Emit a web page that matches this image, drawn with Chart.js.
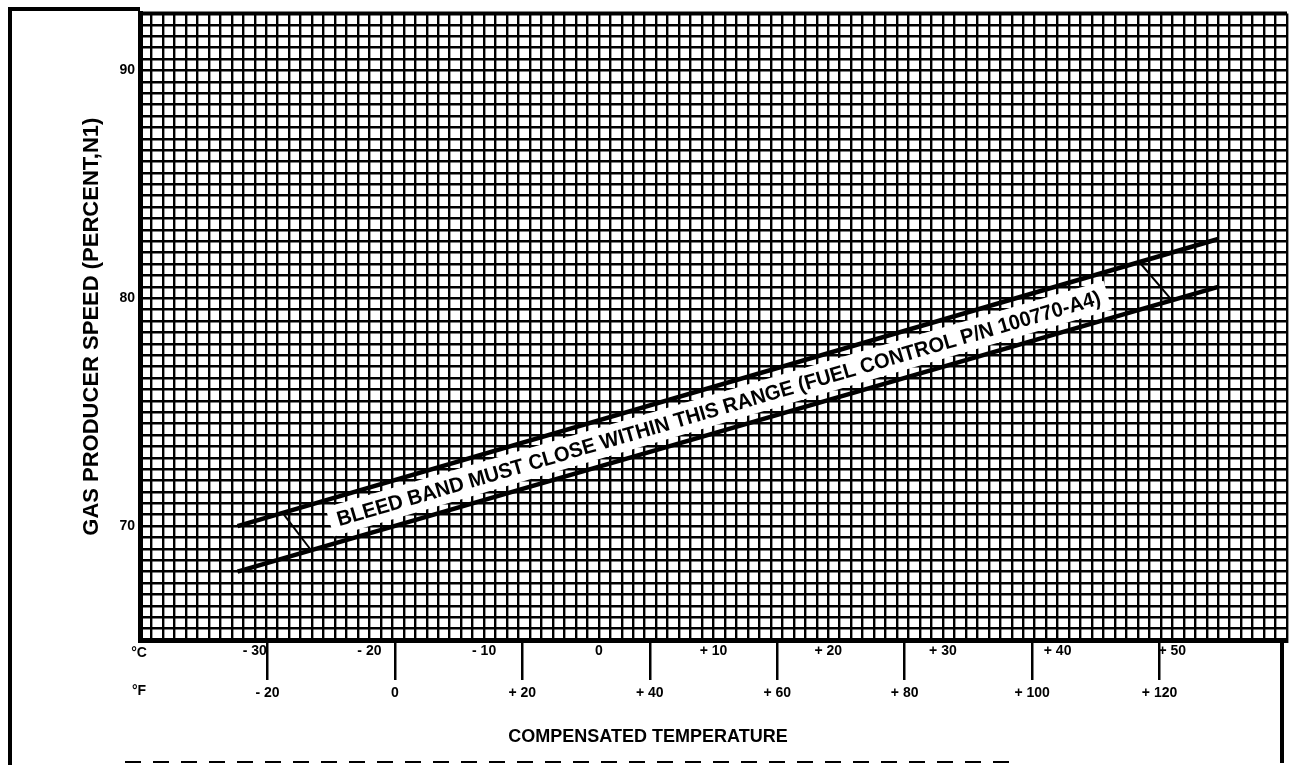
<!DOCTYPE html>
<html>
<head>
<meta charset="utf-8">
<title>Bleed band closing speed</title>
<script src="https://cdn.jsdelivr.net/npm/chart.js@4.4.0/dist/chart.umd.min.js"></script>
<style>
  html, body { margin: 0; padding: 0; background: #fff; }
  canvas { display: block; }
</style>
</head>
<body>
<canvas id="bleedChart" width="1291" height="765"></canvas>
<script>
// axis ranges: x in deg C (grid), second x in deg F, y in percent N1
const tempRangeC = [-40, 60];
const tempRangeF = [-40, 140];
const speedRange = [65, 92.5];

// tick labels
const speedTicks = [70, 80, 90];
const celsiusTicks = [-30, -20, -10, 0, 10, 20, 30, 40, 50];
const celsiusLabels = ['- 30', '- 20', '- 10', '0', '+ 10', '+ 20', '+ 30', '+ 40', '+ 50'];
const fahrenheitTicks = [-20, 0, 20, 40, 60, 80, 100, 120];
const fahrenheitLabels = ['- 20', '0', '+ 20', '+ 40', '+ 60', '+ 80', '+ 100', '+ 120'];

// bleed band limits (deg C vs percent N1)
const bandTemp = [-31.5, 54];
const bandUpper = [70.0, 82.6];
const bandLower = [68.0, 80.5];

// slanted marks across the band ends
const leftMarkTemp = [-27.6, -25.1];
const leftMarkSpeed = [70.6, 68.95];
const rightMarkTemp = [47.1, 49.9];
const rightMarkSpeed = [81.6, 79.95];

const bandNote = 'BLEED BAND MUST CLOSE WITHIN THIS RANGE (FUEL CONTROL P/N 100770-A4)';

const FONT = '"Liberation Sans", Arial, sans-serif';
const tickFont = { family: FONT, size: 14, weight: 'bold' };

const toPoints = (xs, ys) => xs.map((v, i) => ({ x: v, y: ys[i] }));
const fahrenheitTickList = s => { s.ticks = fahrenheitTicks.map(v => ({ value: v })); };

// text along the band, frame and row captions
const paperDecor = {
  id: 'paperDecor',
  afterDatasetsDraw(chart) {
    const { ctx, scales: { x, y } } = chart;
    const mid = t => {
      const f = (t - bandTemp[0]) / (bandTemp[1] - bandTemp[0]);
      const up = bandUpper[0] + f * (bandUpper[1] - bandUpper[0]);
      const lo = bandLower[0] + f * (bandLower[1] - bandLower[0]);
      return [x.getPixelForValue(t), y.getPixelForValue((up + lo) / 2)];
    };
    const [x1, y1] = mid(-22.8);
    const [x2, y2] = mid(43.7);
    const len = Math.hypot(x2 - x1, y2 - y1);
    ctx.save();
    ctx.translate((x1 + x2) / 2, (y1 + y2) / 2);
    ctx.rotate(Math.atan2(y2 - y1, x2 - x1));
    ctx.fillStyle = '#fff';
    ctx.fillRect(-len / 2 - 8, -15, len + 16, 30);
    ctx.font = 'bold 21px ' + FONT;
    const w = ctx.measureText(bandNote).width;
    ctx.scale(len / w, 1);
    ctx.fillStyle = '#000';
    ctx.textAlign = 'center';
    ctx.textBaseline = 'middle';
    ctx.fillText(bandNote, 0, 1);
    ctx.restore();
  },
  afterDraw(chart) {
    const { ctx, chartArea: a } = chart;
    ctx.save();
    ctx.strokeStyle = '#000';
    ctx.lineWidth = 4;
    ctx.beginPath();
    ctx.moveTo(10, 765);
    ctx.lineTo(10, 9);
    ctx.lineTo(a.left, 9);
    ctx.moveTo(a.left, a.top);
    ctx.lineTo(a.right, a.top);
    ctx.moveTo(1282, a.bottom);
    ctx.lineTo(1282, 763);
    ctx.stroke();

    ctx.lineWidth = 2;
    ctx.setLineDash([16, 12]);
    ctx.beginPath();
    ctx.moveTo(125, 762);
    ctx.lineTo(1010, 762);
    ctx.stroke();

    ctx.fillStyle = '#000';
    ctx.textAlign = 'center';
    ctx.textBaseline = 'middle';
    ctx.font = 'bold 14px ' + FONT;
    ctx.fillText('°C', 139, 653);
    ctx.fillText('°F', 139, 691);
    ctx.font = 'bold 18px ' + FONT;
    ctx.fillText('COMPENSATED TEMPERATURE', 648, 737);
    ctx.restore();
  }
};

const lineSet = (data, width) => ({
  data,
  xAxisID: 'x',
  yAxisID: 'y',
  showLine: true,
  borderColor: '#000',
  borderWidth: width,
  pointRadius: 0,
  fill: false
});

new Chart(document.getElementById('bleedChart'), {
  type: 'scatter',
  data: {
    datasets: [
      lineSet(toPoints(bandTemp, bandUpper), 4.5),
      lineSet(toPoints(bandTemp, bandLower), 4.5),
      lineSet(toPoints(leftMarkTemp, leftMarkSpeed), 2),
      lineSet(toPoints(rightMarkTemp, rightMarkSpeed), 2)
    ]
  },
  options: {
    responsive: false,
    animation: false,
    layout: { padding: { top: 9, right: 4, bottom: 0, left: 0 } },
    plugins: {
      legend: { display: false },
      tooltip: { enabled: false }
    },
    scales: {
      // deg F tick marks, hanging from the bottom edge of the grid
      fMarks: {
        type: 'linear',
        position: 'bottom',
        weight: 0,
        min: tempRangeF[0],
        max: tempRangeF[1],
        afterBuildTicks: fahrenheitTickList,
        afterFit: s => { s.height = 0; },
        grid: { drawOnChartArea: false, color: '#000', lineWidth: 2.5, tickLength: 40 },
        border: { display: false },
        ticks: { display: false }
      },
      x: {
        type: 'linear',
        position: 'bottom',
        weight: 1,
        min: tempRangeC[0],
        max: tempRangeC[1],
        afterFit: s => { s.height = 22; },
        grid: { color: '#000', lineWidth: 2.4, drawTicks: false },
        border: { color: '#000', width: 5 },
        ticks: {
          stepSize: 1,
          autoSkip: false,
          maxRotation: 0,
          padding: 3,
          color: '#000',
          font: tickFont,
          callback: v => {
            const i = celsiusTicks.indexOf(v);
            return i < 0 ? '' : celsiusLabels[i];
          }
        }
      },
      fLabels: {
        type: 'linear',
        position: 'bottom',
        weight: 2,
        min: tempRangeF[0],
        max: tempRangeF[1],
        afterBuildTicks: fahrenheitTickList,
        afterFit: s => { s.height = 103; },
        grid: { display: false },
        border: { display: false },
        ticks: {
          autoSkip: false,
          maxRotation: 0,
          padding: 15,
          color: '#000',
          font: tickFont,
          callback: v => fahrenheitLabels[fahrenheitTicks.indexOf(v)]
        }
      },
      y: {
        type: 'linear',
        min: speedRange[0],
        max: speedRange[1],
        afterFit: s => { s.width = 140; },
        grid: { color: '#000', lineWidth: 2.4, drawTicks: false },
        border: { color: '#000', width: 5 },
        ticks: {
          stepSize: 0.5,
          autoSkip: false,
          padding: 5,
          color: '#000',
          font: tickFont,
          callback: v => speedTicks.includes(v) ? String(v) : ''
        },
        title: {
          display: true,
          text: 'GAS PRODUCER SPEED (PERCENT,N1)',
          color: '#000',
          font: { family: FONT, size: 22, weight: 'bold' },
          padding: { top: 79, bottom: 0 }
        }
      }
    }
  },
  plugins: [paperDecor]
});
</script>
</body>
</html>
